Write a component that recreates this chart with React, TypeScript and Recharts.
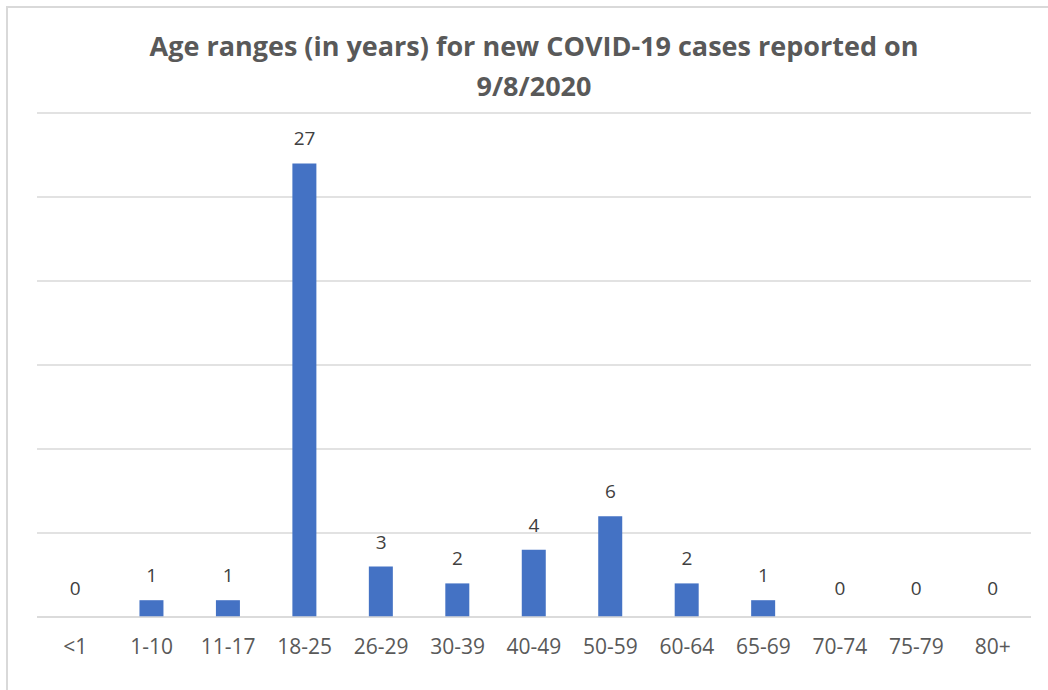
import React from "react";
import { ComposedChart, Bar, Line, XAxis, YAxis, CartesianGrid, LabelList } from "recharts";

const categories = ["<1", "1-10", "11-17", "18-25", "26-29", "30-39", "40-49", "50-59", "60-64", "65-69", "70-74", "75-79", "80+"];
const cases = [0, 1, 1, 27, 3, 2, 4, 6, 2, 1, 0, 0, 0];
const yTicks = [0, 5, 10, 15, 20, 25, 30];
const titleLines = ["Age ranges (in years) for new COVID-19 cases reported on", "9/8/2020"];

const data = categories.map((c, i) => ({ name: c, value: cases[i] }));

const FONT = "'Open Sans', 'Noto Sans', sans-serif";

const ValueLabel = (props: any) => {
  const { x, y, value } = props;
  if (x == null || y == null) return null;
  const off = value === 0 ? 22 : 18;
  return (
    <text x={x} y={y - off} textAnchor="middle" fill="#404040" fontSize={19} fontFamily={FONT}>
      {value}
    </text>
  );
};

export default function App() {
  return (
    <div style={{ position: "absolute", left: 0, top: 0, width: 1048, height: 690, background: "#fff", overflow: "hidden" }}>
      <div style={{ position: "absolute", left: 6, top: 6, width: 1100, height: 700, borderLeft: "2px solid #d9d9d9", borderTop: "2px solid #d9d9d9" }} />
      <div style={{ position: "absolute", left: 0, top: 26, width: 1068, textAlign: "center", fontFamily: FONT, fontWeight: 700, fontSize: 27, lineHeight: "40px", color: "#595959" }}>
        {titleLines.map((t) => (
          <div key={t}>{t}</div>
        ))}
      </div>
      <div style={{ position: "absolute", left: 0, top: 0 }}>
        <ComposedChart width={1048} height={690} data={data} margin={{ top: 113, right: 17, bottom: 0, left: 37 }} barCategoryGap={0}>
          <CartesianGrid vertical={false} stroke="#d9d9d9" strokeWidth={1.5} />
          <YAxis hide domain={[0, 30]} ticks={yTicks} />
          <XAxis
            dataKey="name"
            height={73}
            axisLine={{ stroke: "#d9d9d9", strokeWidth: 1.5 }}
            tickLine={false}
            tickSize={0}
            tickMargin={22}
            interval={0}
            tick={{ fill: "#595959", fontSize: 21, fontFamily: FONT }}
          />
          <Bar dataKey="value" fill="#4472C4" barSize={24} isAnimationActive={false} />
          <Line dataKey="value" stroke="none" dot={false} activeDot={false} isAnimationActive={false} legendType="none">
            <LabelList dataKey="value" content={ValueLabel} />
          </Line>
        </ComposedChart>
      </div>
    </div>
  );
}
